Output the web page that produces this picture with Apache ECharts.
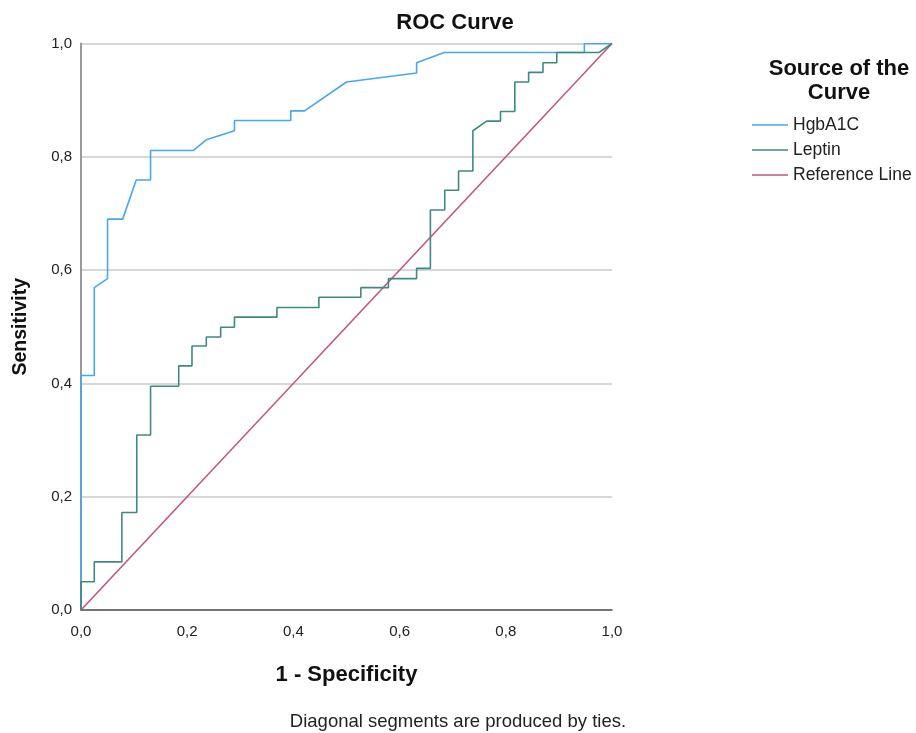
<!DOCTYPE html>
<html>
<head>
<meta charset="utf-8">
<script src="https://cdn.jsdelivr.net/npm/echarts@6/dist/echarts.min.js"></script>
<style>html,body{margin:0;padding:0;background:#fff}#c{width:916px;height:733px}</style>
</head>
<body>
<div id="c"></div>
<script>
// Tick values for both axes
const ticks = [0, 0.2, 0.4, 0.6, 0.8, 1.0];
// HgbA1C ROC curve (1 - specificity, sensitivity)
const hgbX = [0, 0, 0.025, 0.025, 0.05, 0.05, 0.0785, 0.104, 0.131, 0.131, 0.211, 0.236, 0.289, 0.289, 0.395, 0.395, 0.421, 0.5, 0.632, 0.632, 0.684, 0.948, 0.948, 1];
const hgbY = [0, 0.414, 0.414, 0.569, 0.585, 0.690, 0.690, 0.759, 0.759, 0.811, 0.811, 0.830, 0.846, 0.864, 0.864, 0.881, 0.881, 0.932, 0.948, 0.966, 0.984, 0.984, 1, 1];
// Leptin ROC curve
const lepX = [0, 0, 0.025, 0.025, 0.077, 0.077, 0.105, 0.105, 0.131, 0.131, 0.184, 0.184, 0.209, 0.209, 0.236, 0.236, 0.263, 0.263, 0.289, 0.289, 0.369, 0.369, 0.448, 0.448, 0.527, 0.527, 0.579, 0.579, 0.632, 0.632, 0.658, 0.658, 0.685, 0.685, 0.711, 0.711, 0.738, 0.738, 0.764, 0.79, 0.79, 0.817, 0.817, 0.843, 0.843, 0.87, 0.87, 0.896, 0.896, 0.975, 1];
const lepY = [0, 0.05, 0.05, 0.085, 0.085, 0.172, 0.172, 0.309, 0.309, 0.395, 0.395, 0.431, 0.431, 0.466, 0.466, 0.482, 0.482, 0.499, 0.499, 0.517, 0.517, 0.534, 0.534, 0.552, 0.552, 0.569, 0.569, 0.585, 0.585, 0.603, 0.603, 0.706, 0.706, 0.741, 0.741, 0.775, 0.775, 0.846, 0.863, 0.863, 0.880, 0.880, 0.932, 0.932, 0.949, 0.949, 0.966, 0.966, 0.984, 0.984, 1];
// Reference diagonal
const refX = [0, 1];
const refY = [0, 1];

const seriesNames = ['HgbA1C', 'Leptin', 'Reference Line'];
const colors = ['#46a8ef', '#3e8a80', '#c2577f'];

const zip = (xs, ys) => xs.map((x, i) => [x, ys[i]]);
const fmt = v => v.toFixed(1).replace('.', ',');
const FONT = 'Liberation Sans, Arial, sans-serif';

const chart = echarts.init(document.getElementById('c'));
chart.setOption({
  backgroundColor: '#fff',
  animation: false,
  textStyle: { fontFamily: FONT },
  title: [
    { text: 'ROC Curve', left: 450, top: 7, textAlign: 'center',
      textStyle: { fontSize: 22, fontWeight: 'bold', color: '#111', fontFamily: FONT } },
    { text: 'Source of the\nCurve', left: 834, top: 52, textAlign: 'center',
      textStyle: { fontSize: 22, fontWeight: 'bold', color: '#111', lineHeight: 24, fontFamily: FONT } },
    { text: 'Diagonal segments are produced by ties.', left: 453, top: 707, textAlign: 'center',
      textStyle: { fontSize: 18.5, fontWeight: 'normal', color: '#222', fontFamily: FONT } }
  ],
  legend: {
    orient: 'vertical', left: 747, top: 111,
    itemWidth: 36, itemHeight: 14, itemGap: 7,
    icon: 'path://M0,6.5 L36,6.5 L36,8 L0,8 Z',
    textStyle: { fontSize: 17.5, color: '#222', fontFamily: FONT },
    data: seriesNames
  },
  grid: { left: 81, right: 304, top: 43.5, bottom: 123, containLabel: false },
  xAxis: {
    type: 'value', min: 0, max: 1, interval: 0.2,
    name: '1 - Specificity', nameLocation: 'middle', nameGap: 54,
    nameTextStyle: { fontSize: 22, fontWeight: 'bold', color: '#111' },
    axisLine: { show: true, lineStyle: { color: '#555', width: 1.5 } },
    axisTick: { show: false },
    splitLine: { show: false },
    axisLabel: { fontSize: 15, color: '#222', margin: 14, formatter: v => fmt(v) }
  },
  yAxis: {
    type: 'value', min: 0, max: 1, interval: 0.2,
    name: 'Sensitivity', nameLocation: 'middle', nameGap: 50,
    nameTextStyle: { fontSize: 19.5, fontWeight: 'bold', color: '#111' },
    axisLine: { show: true, lineStyle: { color: '#999', width: 2 } },
    axisTick: { show: false },
    splitLine: { show: true, lineStyle: { color: '#cacaca', width: 1.5 } },
    axisLabel: { fontSize: 15, color: '#222', margin: 9, formatter: v => fmt(v) }
  },
  series: [
    { name: seriesNames[0], type: 'line', data: zip(hgbX, hgbY), showSymbol: false, symbol: 'none',
      lineStyle: { color: colors[0], width: 1.6 }, itemStyle: { color: colors[0] }, z: 3 },
    { name: seriesNames[1], type: 'line', data: zip(lepX, lepY), showSymbol: false, symbol: 'none',
      lineStyle: { color: colors[1], width: 1.6 }, itemStyle: { color: colors[1] }, z: 4 },
    { name: seriesNames[2], type: 'line', data: zip(refX, refY), showSymbol: false, symbol: 'none',
      lineStyle: { color: colors[2], width: 1.6 }, itemStyle: { color: colors[2] }, z: 2 }
  ]
});
</script>
</body>
</html>
